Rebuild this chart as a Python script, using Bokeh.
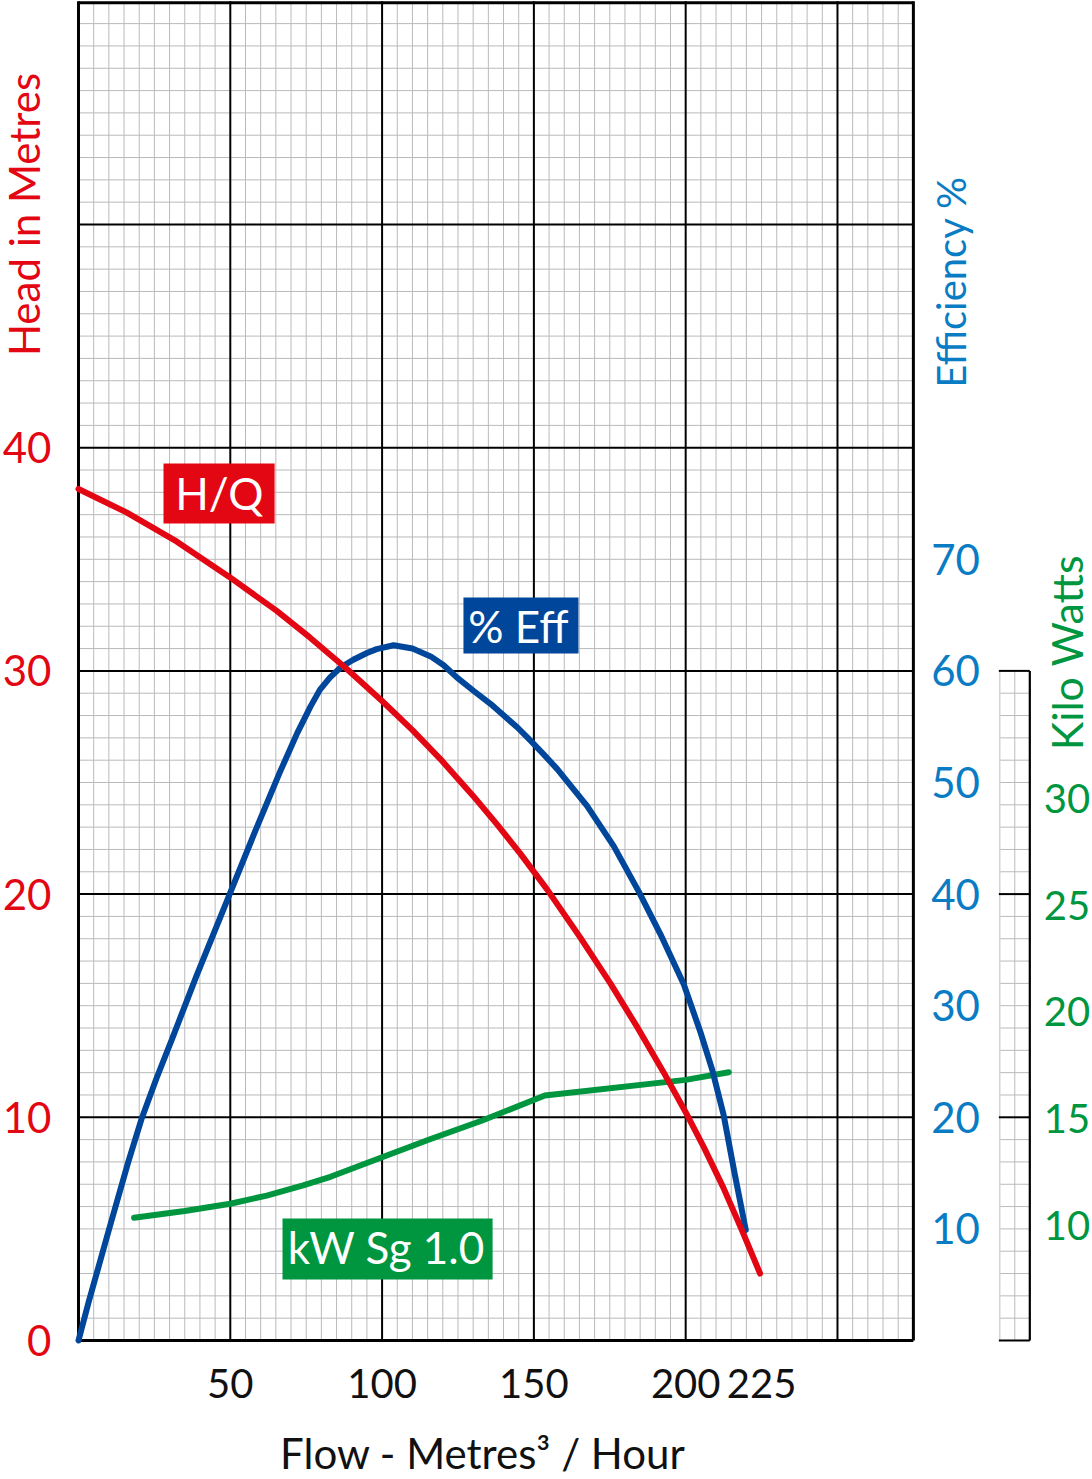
import numpy as np
from math import pi
from bokeh.plotting import figure
from bokeh.models import Range1d, ColumnDataSource
from bokeh.core.properties import value
from bokeh.embed import file_html
from bokeh.resources import INLINE

# ---------------- data ----------------
hq_flow = [0, 15.8, 32.3, 49.8, 65.2, 76.2, 88.3, 100, 110, 119.2, 130, 138, 145.6,
           154.4, 165.3, 175.2, 184, 192.8, 200.5, 206, 212.4, 218.5, 224.5]
hq_head = [38.15, 37.1, 35.8, 34.2, 32.7, 31.5, 30.1, 28.65, 27.35, 26.05, 24.4, 23.1, 21.8,
           20.2, 18.05, 16.0, 14.05, 12.0, 10.1, 8.65, 6.85, 4.95, 3.0]

eff_flow = [0, 3.3, 10, 16.4, 20.7, 25.7, 30.8, 38.9, 49.8, 58, 66.3, 72, 76.4, 79.5, 82.8,
            86.3, 90.5, 95, 98.2, 103.8, 110, 116, 120.3, 124.7, 130.2, 135.7, 140.1, 144.5,
            148.9, 153.3, 157.7, 167.5, 176.3, 184.6, 191.7, 199.4, 204.9, 208.7, 212.5,
            216.1, 219.8]
eff_pct = [0, 3.4, 9.9, 16.0, 19.8, 23.5, 27.0, 32.7, 40.0, 45.5, 50.9, 54.4, 56.8, 58.3, 59.4,
           60.3, 61.0, 61.6, 61.95, 62.3, 62.0, 61.3, 60.5, 59.4, 58.2, 57.05, 56.0, 54.95,
           53.75, 52.5, 51.2, 47.9, 44.3, 40.2, 36.4, 31.9, 27.6, 24.3, 20.2, 15.0, 9.9]

kw_flow = [18.3, 35, 50, 62, 74, 83, 100, 116, 133, 153.6, 200, 214.2]
kw_val = [10.36, 10.68, 11.02, 11.4, 11.88, 12.28, 13.2, 14.05, 14.92, 16.09, 16.82, 17.18]

flow_ticks = [50, 100, 150, 200, 225]
head_ticks = [0, 10, 20, 30, 40]
eff_ticks = [10, 20, 30, 40, 50, 60, 70]
kw_ticks = [10, 15, 20, 25, 30]

# ---------------- styling ----------------
RED = "#e30613"
BLUE = "#00479b"
EFFBLUE = "#0a7cc4"
GREEN = "#00963f"
MINOR = "#bababa"
INK = "#111111"
FONT = value("Lato")

# ranges: the frame covers the whole canvas, paper runs 0..275 m3/h and 0..60 m
X0, X1 = -25.69, 334.0
Y0, Y1 = -6.228, 60.036
XMAX, YMAX = 275, 60

p = figure(width=1092, height=1479, x_range=Range1d(X0, X1), y_range=Range1d(Y0, Y1),
           output_backend="svg", toolbar_location=None, title=None,
           x_axis_location=None, y_axis_location=None,
           min_border_left=0, min_border_right=0, min_border_top=0, min_border_bottom=0)
p.extra_y_ranges = {"eff": Range1d(2 * Y0, 2 * Y1), "kw": Range1d(-1.897, 67.377)}
p.xgrid.visible = False
p.ygrid.visible = False
p.outline_line_color = None
p.background_fill_color = "white"
p.border_fill_color = "white"

# ---------------- graph paper ----------------
minor_x = [x for x in range(5, XMAX, 5) if x % 50]
minor_y = [y for y in range(1, YMAX) if y % 10]
major_x = [x for x in range(50, XMAX, 50)]
major_y = [y for y in range(10, YMAX, 10)]
p.segment(x0=minor_x, y0=0, x1=minor_x, y1=YMAX, line_color=MINOR, line_width=1)
p.segment(x0=0, y0=minor_y, x1=XMAX, y1=minor_y, line_color=MINOR, line_width=1)
p.segment(x0=major_x, y0=0, x1=major_x, y1=YMAX, line_color="black", line_width=2)
p.segment(x0=0, y0=major_y, x1=XMAX, y1=major_y, line_color="black", line_width=2)
p.segment(x0=[0, XMAX, 0, 0], y0=[0, 0, 0, YMAX - 0.07], x1=[0, XMAX, XMAX, XMAX],
          y1=[YMAX, YMAX, 0, YMAX - 0.07], line_color="black", line_width=3)

# kW strip
SX0, SXM, SX1 = 303.45, 308.4, 313.35
strip_minor = [y for y in range(1, 30) if y % 10]
p.segment(x0=SX0, y0=strip_minor, x1=SX1, y1=strip_minor, line_color=MINOR, line_width=1)
p.segment(x0=[SX0], y0=[0], x1=[SX0], y1=[30], line_color="#d4d4d4", line_width=1.5)
p.segment(x0=[SXM], y0=[0], x1=[SXM], y1=[30], line_color=MINOR, line_width=1)
p.segment(x0=SX0 - 0.3, y0=[0, 10, 20, 30], x1=SX1, y1=[0, 10, 20, 30],
          line_color="black", line_width=2)
p.segment(x0=[SX1], y0=[0], x1=[SX1], y1=[30], line_color="black", line_width=2.2)

# ---------------- curves ----------------
p.line(kw_flow, kw_val, y_range_name="kw", line_color=GREEN, line_width=6,
       line_cap="round", line_join="round")
p.line(eff_flow, eff_pct, y_range_name="eff", line_color=BLUE, line_width=6,
       line_cap="round", line_join="round")
p.line(hq_flow, hq_head, line_color=RED, line_width=6, line_cap="round", line_join="round")

# ---------------- curve tags ----------------
def tag(l, r, b, t, tx, ty, txt, color):
    p.quad(left=[l], right=[r], bottom=[b], top=[t], fill_color=color, line_color=None)
    p.text(x=[tx], y=[ty], text=[txt], text_color="white", text_font=FONT,
           text_font_size="44px", text_align="center", text_baseline="middle")

tag(28.0, 64.6, 36.60, 39.29, 46.4, 37.97, "H/Q", RED)
tag(126.8, 164.7, 30.78, 33.29, 144.9, 32.01, "% Eff", BLUE)
tag(67.2, 136.4, 2.73, 5.47, 101.4, 4.21, "kW Sg 1.0", GREEN)

# ---------------- scales (tick labels placed through the scales) ----------------
def labels(xs, ys, txt, color, size, align, yr="default"):
    src = ColumnDataSource(dict(x=xs, y=ys, t=txt))
    p.text(x="x", y="y", text="t", source=src, y_range_name=yr, text_color=color,
           text_font=FONT, text_font_size=size, text_align=align, text_baseline="middle")

labels(flow_ticks, [-1.93] * len(flow_ticks), [str(v) for v in flow_ticks], INK, "40px", "center")
labels([-8.9] * len(head_ticks), head_ticks, [str(v) for v in head_ticks], RED, "42px", "right")
labels([288.9] * len(eff_ticks), eff_ticks, [str(v) for v in eff_ticks], EFFBLUE, "42px",
       "center", "eff")
labels([325.6] * len(kw_ticks), kw_ticks, [str(v) for v in kw_ticks], GREEN, "40px",
       "center", "kw")

# ---------------- axis titles ----------------
def title(x, y, txt, color, size, angle=0.0):
    p.text(x=[x], y=[y], text=[txt], angle=angle, text_color=color, text_font=FONT,
           text_font_size=size, text_align="center", text_baseline="middle")

title(-17.95, 50.45, "Head in Metres", RED, "42px", pi / 2)
title(287.5, 47.43, "Efficiency %", EFFBLUE, "40px", pi / 2)
title(325.3, 30.82, "Kilo Watts", GREEN, "43px", pi / 2)
title(133.2, -5.04, "Flow - Metres\u00b3 / Hour", INK, "42px")

open("out.html", "w").write(file_html(p, INLINE))
